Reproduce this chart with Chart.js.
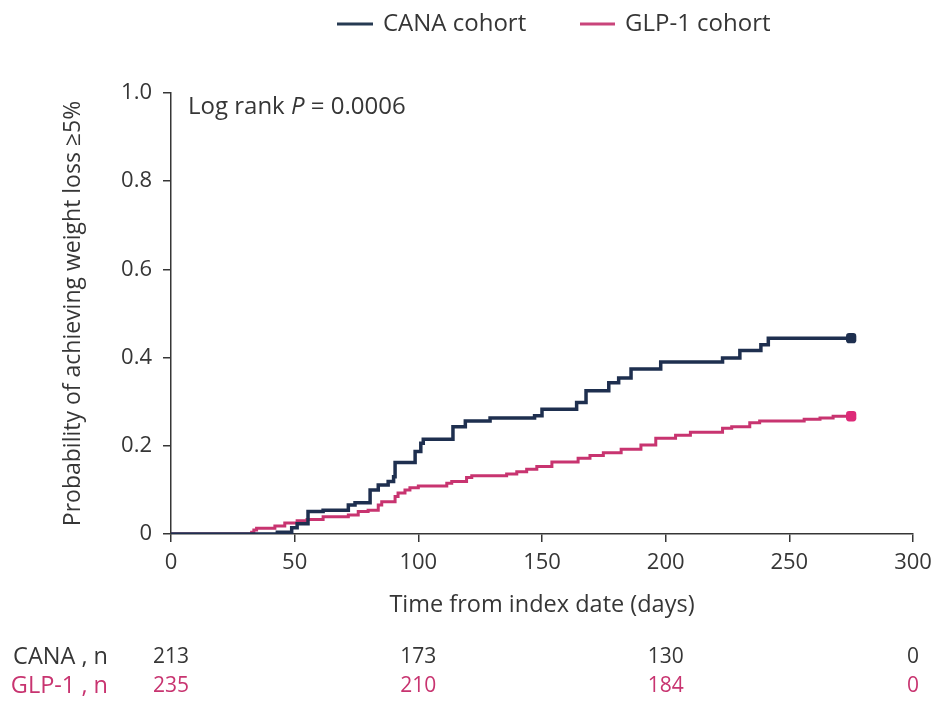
<!DOCTYPE html>
<html>
<head>
<meta charset="utf-8">
<script src="https://cdn.jsdelivr.net/npm/chart.js@4.4.1/dist/chart.umd.min.js"></script>
<style>
  html, body { margin: 0; padding: 0; background: #fff; }
  #wrap { width: 946px; height: 706px; }
</style>
</head>
<body>
<div id="wrap"><canvas id="km"></canvas></div>
<script>
// Kaplan-Meier style curves (days, cumulative probability)
var canaDays = [0, 43, 48.8, 51, 55.4, 61.5, 71.7, 74.4, 80.5, 83.8, 87.8, 90, 90.6, 98.7, 101, 102, 114, 119, 129, 147, 150, 164, 167.8, 177, 181, 186, 198, 223, 230, 238.5, 241.5, 275];
var canaProb = [0, 0.004, 0.014, 0.023, 0.051, 0.054, 0.066, 0.071, 0.100, 0.111, 0.119, 0.130, 0.162, 0.187, 0.206, 0.215, 0.243, 0.256, 0.263, 0.268, 0.283, 0.298, 0.325, 0.343, 0.354, 0.374, 0.390, 0.399, 0.416, 0.429, 0.444, 0.444];

var glpDays = [0, 32.6, 33.5, 34.6, 42, 46, 51, 55, 61.5, 71.7, 75.7, 79.7, 83.8, 85.2, 90.6, 91.8, 94.6, 96.6, 100, 111.5, 113.5, 119.5, 121.6, 135.7, 139.8, 143.8, 147.9, 154, 164.6, 169.4, 174.8, 182, 190, 196, 204, 210, 223, 226.7, 234, 238, 256, 262.4, 267.7, 275];
var glpProb = [0, 0.004, 0.009, 0.013, 0.018, 0.025, 0.030, 0.033, 0.039, 0.043, 0.051, 0.054, 0.066, 0.073, 0.085, 0.093, 0.100, 0.105, 0.109, 0.115, 0.119, 0.128, 0.132, 0.136, 0.141, 0.147, 0.153, 0.163, 0.172, 0.178, 0.184, 0.192, 0.202, 0.217, 0.224, 0.231, 0.240, 0.243, 0.252, 0.256, 0.260, 0.263, 0.267, 0.267];

var xTicks = [0, 50, 100, 150, 200, 250, 300];
var yTicks = [0, 0.2, 0.4, 0.6, 0.8, 1.0];

// number at risk table
var riskDays = [0, 100, 200, 300];
var canaRisk = [213, 173, 130, 0];
var glpRisk = [235, 210, 184, 0];

var NAVY = '#1e2f4f';
var PINK = '#c83470';
var TEXT = '#363636';
var FONT = '"Open Sans", sans-serif';

function toPoints(xs, ys) {
    var pts = [];
    for (var i = 0; i < xs.length; i++) {
        pts.push({ x: xs[i], y: ys[i] });
    }
    return pts;
}

function lastPointRadius(ctx) {
    return ctx.dataIndex === ctx.dataset.data.length - 1 ? 6 : 0;
}

// legend, p-value and number-at-risk rows
var extras = {
    id: 'extras',
    afterDraw: function(chart) {
        var ctx = chart.ctx;
        var xs = chart.scales.x;
        var area = chart.chartArea;
        ctx.save();

        // legend
        ctx.font = '24px ' + FONT;
        ctx.textBaseline = 'middle';
        ctx.textAlign = 'left';
        ctx.lineWidth = 3;
        ctx.strokeStyle = '#263a52';
        ctx.beginPath(); ctx.moveTo(337, 24); ctx.lineTo(373, 24); ctx.stroke();
        ctx.fillStyle = TEXT;
        ctx.fillText(chart.data.datasets[0].label, 383, 24);
        ctx.strokeStyle = '#c9447b';
        ctx.beginPath(); ctx.moveTo(580, 24); ctx.lineTo(615, 24); ctx.stroke();
        ctx.fillText(chart.data.datasets[1].label, 625, 24);

        // log rank
        var f = '24px ' + FONT;
        ctx.font = f;
        var px = area.left + 17, py = area.top + 14;
        var t1 = 'Log rank ';
        ctx.fillText(t1, px, py);
        px += ctx.measureText(t1).width;
        ctx.font = 'italic ' + f;
        ctx.fillText('P', px, py);
        px += ctx.measureText('P').width;
        ctx.font = f;
        ctx.fillText(' = 0.0006', px, py);

        // number at risk
        ctx.font = '23.5px ' + FONT;
        ctx.textAlign = 'right';
        ctx.fillStyle = TEXT;
        ctx.fillText('CANA , n', 108, 657);
        ctx.fillStyle = PINK;
        ctx.fillText('GLP-1 , n', 108, 686);
        ctx.font = '21px ' + FONT;
        ctx.textAlign = 'center';
        for (var i = 0; i < riskDays.length; i++) {
            var x = xs.getPixelForValue(riskDays[i]);
            ctx.fillStyle = TEXT;
            ctx.fillText(String(canaRisk[i]), x, 657);
            ctx.fillStyle = PINK;
            ctx.fillText(String(glpRisk[i]), x, 686);
        }
        ctx.restore();
    }
};

var ctx = document.getElementById('km');
var chart = new Chart(ctx, {
    type: 'line',
    data: {
        datasets: [
            {
                label: 'CANA cohort',
                data: toPoints(canaDays, canaProb),
                borderColor: NAVY,
                backgroundColor: NAVY,
                borderWidth: 3.5,
                stepped: true,
                pointRadius: lastPointRadius,
                pointStyle: 'rectRounded',
                pointBorderWidth: 0
            },
            {
                label: 'GLP-1 cohort',
                data: toPoints(glpDays, glpProb),
                borderColor: PINK,
                backgroundColor: '#dd2a78',
                borderWidth: 3,
                stepped: true,
                pointRadius: lastPointRadius,
                pointStyle: 'rectRounded',
                pointBorderWidth: 0
            }
        ]
    },
    options: {
        responsive: true,
        maintainAspectRatio: false,
        animation: false,
        layout: {
            padding: { top: 93, left: 59, right: 33, bottom: 82 }
        },
        plugins: {
            legend: { display: false },
            tooltip: { enabled: false }
        },
        scales: {
            x: {
                type: 'linear',
                min: 0,
                max: 300,
                afterBuildTicks: function(scale) {
                    scale.ticks = xTicks.map(function(v) { return { value: v }; });
                },
                afterFit: function(scale) { scale.height = 90; },
                grid: { display: true, drawOnChartArea: false, drawTicks: true, tickLength: 8, color: TEXT, lineWidth: 1.5 },
                border: { display: true, color: TEXT, width: 1.5 },
                ticks: { color: TEXT, padding: 8, font: { family: FONT, size: 22 }, maxRotation: 0 },
                title: {
                    display: true,
                    text: 'Time from index date (days)',
                    color: TEXT,
                    font: { family: FONT, size: 23.5 },
                    padding: { top: 0, bottom: 5 }
                }
            },
            y: {
                min: 0,
                max: 1,
                afterBuildTicks: function(scale) {
                    scale.ticks = yTicks.map(function(v) { return { value: v }; });
                },
                afterFit: function(scale) { scale.width = 112; },
                grid: { display: true, drawOnChartArea: false, drawTicks: true, tickLength: 8, color: TEXT, lineWidth: 1.5 },
                border: { display: true, color: TEXT, width: 1.5 },
                ticks: {
                    color: TEXT,
                    padding: 11,
                    font: { family: FONT, size: 22 },
                    callback: function(v) { return v === 0 ? '0' : v.toFixed(1); }
                },
                title: {
                    display: true,
                    text: 'Probability of achieving weight loss ≥5%',
                    color: TEXT,
                    font: { family: FONT, size: 23 },
                    padding: { top: 1, bottom: 0 }
                }
            }
        }
    },
    plugins: [extras]
});
</script>
</body>
</html>
